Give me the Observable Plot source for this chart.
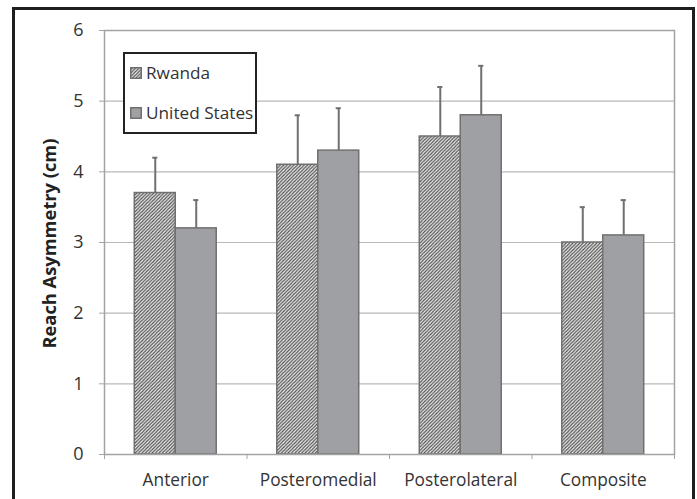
<!DOCTYPE html>
<html>
<head>
<meta charset="utf-8">
<script src="https://cdn.jsdelivr.net/npm/d3@7"></script>
<script src="https://cdn.jsdelivr.net/npm/@observablehq/plot@0.6"></script>
<style>
  html, body { margin: 0; padding: 0; background: #fff; }
  #wrap { position: relative; width: 697px; height: 499px; overflow: hidden; font-family: "Open Sans", Lato, sans-serif; }
  #border { position: absolute; left: 12px; top: 7px; width: 683px; height: 540px; border: 3px solid #1e1e1e; box-sizing: border-box; pointer-events: none; }
  #legend { position: absolute; left: 123px; top: 52px; width: 134px; height: 82px; border: 2px solid #222; box-sizing: border-box; background: #fff; font-size: 17.2px; color: #333; }
  #legend .row { position: absolute; left: 5px; display: flex; align-items: center; }
  #legend svg { margin-right: 4px; }
</style>
</head>
<body>
<div id="wrap">
  <div id="chart"></div>
  <div id="legend"></div>
  <div id="border"></div>
</div>
<script>
const categories = ["Anterior", "Posteromedial", "Posterolateral", "Composite"];
const series = ["Rwanda", "United States"];
const rwandaMean = [3.7, 4.1, 4.5, 3.0];
const rwandaSD = [0.5, 0.7, 0.7, 0.5];
const usMean = [3.2, 4.3, 4.8, 3.1];
const usSD = [0.4, 0.6, 0.7, 0.5];
const yTicks = [0, 1, 2, 3, 4, 5, 6];
const yLabel = "Reach Asymmetry (cm)";

// layout fractions within each category slot (style, not data)
const outerPad = 0.2125;
const capHalf = 0.018;

const rows = [];
categories.forEach((c, i) => {
  rows.push({cat: c, i, s: 0, series: series[0], value: rwandaMean[i], err: rwandaSD[i]});
  rows.push({cat: c, i, s: 1, series: series[1], value: usMean[i], err: usSD[i]});
});
const bx1 = d => d.i + (d.s === 0 ? outerPad : 0.5);
const bx2 = d => d.i + (d.s === 0 ? 0.5 : 1 - outerPad);
const bc = d => (bx1(d) + bx2(d)) / 2;
const rw = rows.filter(d => d.s === 0);
const usr = rows.filter(d => d.s === 1);

const gray = "#a3a3a3";
const barStroke = "#707070";
const usFill = "#9fa0a4";
const textColor = "#333";

const plot = Plot.plot({
  width: 697,
  height: 499,
  marginLeft: 104,
  marginRight: 23,
  marginTop: 30,
  marginBottom: 45,
  style: {fontFamily: "'Open Sans', Lato, sans-serif", background: "transparent"},
  x: {type: "linear", domain: [0, categories.length]},
  y: {domain: [0, 6]},
  marks: [
    Plot.gridY(yTicks, {stroke: "#b8b8b8", strokeOpacity: 1, strokeWidth: 1.2}),
    Plot.rectY(rw, {x1: bx1, x2: bx2, y1: 0, y2: "value", fill: "url(#hatch)", stroke: barStroke, strokeWidth: 1.5}),
    Plot.rectY(usr, {x1: bx1, x2: bx2, y1: 0, y2: "value", fill: usFill, stroke: barStroke, strokeWidth: 1.5}),
    Plot.ruleX(rows, {x: bc, y1: "value", y2: d => d.value + d.err, stroke: barStroke, strokeWidth: 2}),
    Plot.ruleY(rows, {y: d => d.value + d.err, x1: d => bc(d) - capHalf, x2: d => bc(d) + capHalf, stroke: barStroke, strokeWidth: 2}),
    Plot.frame({stroke: gray, strokeWidth: 1.5}),
    Plot.axisY({ticks: yTicks, tickSize: 5, tickPadding: 16, tickFormat: d3.format("d"), fontSize: 18, stroke: gray, fill: textColor, label: null}),
    Plot.axisX({ticks: d3.range(categories.length + 1), tickSize: 5, tickFormat: () => "", stroke: gray, label: null}),
    Plot.axisX({ticks: categories.map((c, i) => i + 0.5), tickSize: 0, tickPadding: 19, tickFormat: v => categories[Math.floor(v)], fontSize: 17.3, fill: textColor, label: null}),
    Plot.text([yLabel], {frameAnchor: "left", textAnchor: "middle", rotate: -90, dx: -54, dy: 1, fontSize: 18.3, fontWeight: "bold", fill: "#222"})
  ]
});

// hatch pattern definition
const ns = "http://www.w3.org/2000/svg";
const defs = document.createElementNS(ns, "defs");
defs.innerHTML = `<pattern id="hatch" patternUnits="userSpaceOnUse" width="3.4" height="3.4">
  <rect width="3.4" height="3.4" fill="#f0f0f0"/>
  <path d="M-0.85,0.85 L0.85,-0.85 M0,3.4 L3.4,0 M2.55,4.25 L4.25,2.55" stroke="#4a4a4a" stroke-width="1.1"/>
</pattern>`;
plot.insertBefore(defs, plot.firstChild);
document.getElementById("chart").appendChild(plot);

// legend
const legend = document.getElementById("legend");
series.forEach((s, k) => {
  const row = document.createElement("div");
  row.className = "row";
  row.style.top = (k === 0 ? 7 : 47) + "px";
  const fill = k === 0 ? "url(#hatch)" : usFill;
  row.innerHTML = `<svg width="12" height="12"><rect x="0.75" y="0.75" width="10.5" height="10.5" fill="${fill}" stroke="${barStroke}" stroke-width="1.5"/></svg><span>${s}</span>`;
  legend.appendChild(row);
});
</script>
</body>
</html>
